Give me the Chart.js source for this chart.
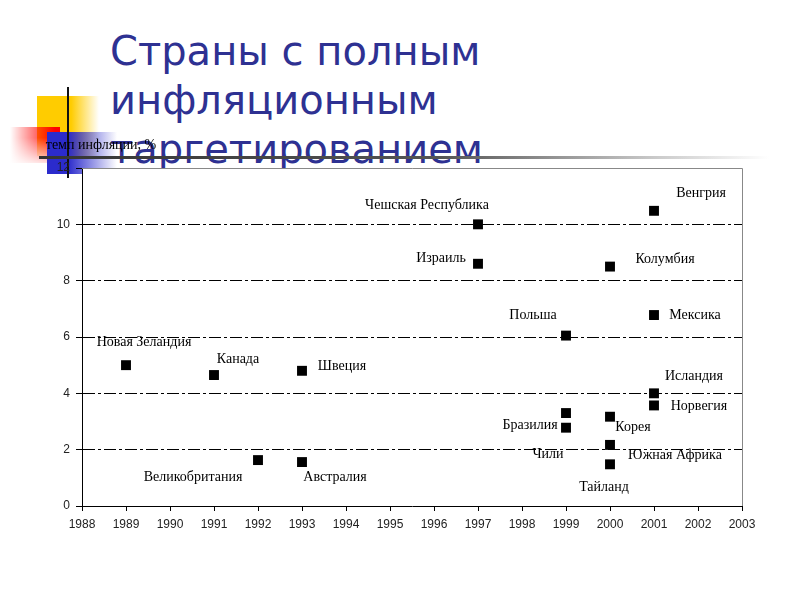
<!DOCTYPE html>
<html>
<head>
<meta charset="utf-8">
<script src="https://cdn.jsdelivr.net/npm/chart.js@4.4.1/dist/chart.umd.min.js"></script>
<style>
  html, body { margin: 0; padding: 0; background: #fff; }
  #slide { position: relative; width: 800px; height: 600px; overflow: hidden; }
  .deco { position: absolute; }
  #yellow { left: 37px; top: 96px; width: 62px; height: 60px;
    background: linear-gradient(to right, #ffcc00 55%, rgba(255,255,255,0) 100%); }
  #red { left: 10px; top: 127px; width: 50px; height: 36px;
    background: linear-gradient(to bottom, rgba(255,255,255,0) 30%, rgba(255,255,255,0.85) 100%),
                linear-gradient(to left, #ff0000 10%, rgba(255,255,255,0) 100%); }
  #blue { left: 47px; top: 132px; width: 70px; height: 42px;
    background: linear-gradient(to right, #2b2bcc 30%, rgba(255,255,255,0) 100%); }
  #vline { left: 67px; top: 87px; width: 2px; height: 91px; background: #111; }
  #hline { left: 39px; top: 156px; width: 730px; height: 3px;
    background: linear-gradient(to right, #333 0%, #555 55%, #ccc 85%, rgba(255,255,255,0) 100%); }
  #title { position: absolute; left: 110px; top: 27px; color: #2e3192;
    font-family: "DejaVu Sans", sans-serif; font-size: 40px; line-height: 49px; white-space: nowrap; }
  #chart { position: absolute; left: 0; top: 0; }
</style>
</head>
<body>
<div id="slide">
  <div class="deco" id="yellow"></div>
  <div class="deco" id="red"></div>
  <div class="deco" id="blue"></div>
  <div class="deco" id="vline"></div>
  <div id="title">Страны с полным<br>инфляционным<br>таргетированием</div>
  <div class="deco" id="hline"></div>
  <canvas id="chart" width="800" height="600"></canvas>
</div>
<script>
const countries = ['Новая Зеландия', 'Канада', 'Великобритания', 'Швеция', 'Австралия',
  'Чешская Республика', 'Израиль', 'Польша', 'Бразилия', 'Чили',
  'Колумбия', 'Корея', 'Южная Африка', 'Тайланд',
  'Венгрия', 'Мексика', 'Исландия', 'Норвегия'];
const years = [1989, 1991, 1992, 1993, 1993,
  1997, 1997, 1999, 1999, 1999,
  2000, 2000, 2000, 2000,
  2001, 2001, 2001, 2001];
const inflation = [5.0, 4.65, 1.63, 4.8, 1.56,
  10.0, 8.6, 6.05, 3.3, 2.78,
  8.5, 3.17, 2.17, 1.48,
  10.48, 6.78, 4.0, 3.57];
const yTicks = [0, 2, 4, 6, 8, 10, 12];
const axisTitle = 'темп инфляции, %';

// where each country name sits relative to its marker (px)
const labelOffsets = [[18, -23], [24, -16], [-65, 17], [40, -4], [33, 15],
  [-51, -19], [-37, -5], [-33, -20], [-36, 12], [-18, 27],
  [55, -7], [23, 11], [65, 10], [-6, 23],
  [47, -17], [41, 0], [40, -17], [45, 1]];

const points = years.map((y, i) => ({ x: y, y: inflation[i] }));

const slidePlugin = {
  id: 'slide',
  beforeDraw(chart) {
    const { ctx, chartArea: a } = chart;
    ctx.save();
    ctx.fillStyle = '#fff';
    ctx.fillRect(a.left, a.top, a.right - a.left, a.bottom - a.top);
    ctx.restore();
  },
  afterDraw(chart) {
    const { ctx, chartArea: a } = chart;
    ctx.save();
    ctx.strokeStyle = '#888';
    ctx.lineWidth = 1;
    ctx.beginPath();
    ctx.moveTo(a.left, a.top + 0.5);
    ctx.lineTo(a.right + 0.5, a.top + 0.5);
    ctx.lineTo(a.right + 0.5, a.bottom);
    ctx.stroke();

    ctx.fillStyle = '#000';
    ctx.font = '14px "Liberation Serif", serif';
    ctx.textAlign = 'center';
    ctx.textBaseline = 'middle';
    ctx.fillText(axisTitle, a.left + 19, a.top - 23);

    const meta = chart.getDatasetMeta(0);
    meta.data.forEach((el, i) => {
      const [dx, dy] = labelOffsets[i];
      ctx.fillText(countries[i], el.x + dx, el.y + dy);
    });
    ctx.restore();
  }
};

new Chart(document.getElementById('chart'), {
  type: 'scatter',
  data: {
    datasets: [{
      data: points,
      backgroundColor: '#000',
      borderWidth: 0,
      pointStyle: 'rect',
      pointRadius: 7,
      pointHoverRadius: 7
    }]
  },
  options: {
    responsive: false,
    animation: false,
    events: [],
    layout: { padding: { top: 168, right: 58, left: 0, bottom: 0 } },
    plugins: { legend: { display: false }, tooltip: { enabled: false } },
    scales: {
      x: {
        type: 'linear',
        min: 1988,
        max: 2003,
        afterFit(scale) { scale.height = 94; },
        ticks: {
          stepSize: 1,
          callback: v => String(v),
          color: '#222',
          padding: 6,
          maxRotation: 0,
          font: { family: '"Liberation Sans", Arial, sans-serif', size: 12 }
        },
        grid: { drawOnChartArea: false, drawTicks: true, tickLength: 5, tickColor: '#000' },
        border: { color: '#000', width: 1 }
      },
      y: {
        min: 0,
        max: 12,
        afterFit(scale) { scale.width = 82; },
        afterBuildTicks(scale) { scale.ticks = yTicks.map(v => ({ value: v })); },
        ticks: {
          color: '#222',
          padding: 6,
          font: { family: '"Liberation Sans", Arial, sans-serif', size: 12 }
        },
        grid: {
          color: c => (c.tick && (c.tick.value === 0 || c.tick.value === 12)) ? 'rgba(0,0,0,0)' : '#000',
          tickColor: '#000',
          tickLength: 6,
          lineWidth: 1
        },
        border: { color: '#000', width: 1, dash: [12, 3, 3, 3] }
      }
    }
  },
  plugins: [slidePlugin]
});
</script>
</body>
</html>
